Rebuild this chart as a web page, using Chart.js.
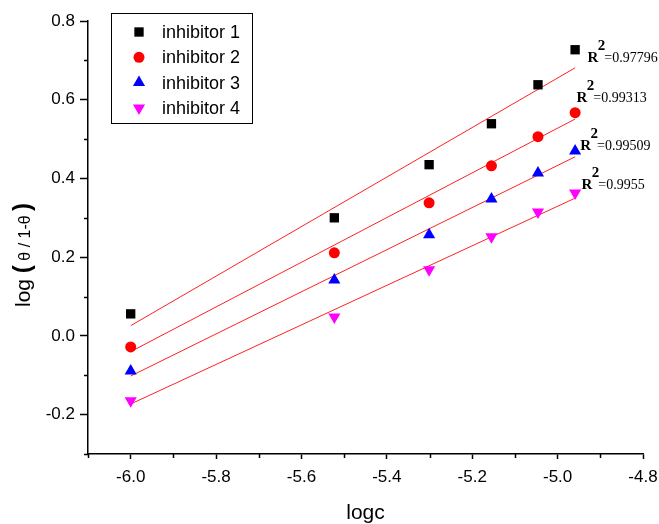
<!DOCTYPE html>
<html>
<head>
<meta charset="utf-8">
<script src="https://cdn.jsdelivr.net/npm/chart.js@4.4.1/dist/chart.umd.min.js"></script>
<style>
  html, body { margin: 0; padding: 0; background: #fff; }
  canvas { display: block; }
</style>
</head>
<body>
<canvas id="chart" width="659" height="524"></canvas>
<script>
// logc for 1, 3, 5, 7, 9, 11 µM
const logc = [-6.0, -5.523, -5.301, -5.155, -5.046, -4.959]
const inhibitor1 = [0.056, 0.300, 0.435, 0.539, 0.638, 0.727]
const inhibitor2 = [-0.028, 0.211, 0.338, 0.432, 0.506, 0.567]
const inhibitor3 = [-0.089, 0.142, 0.257, 0.348, 0.414, 0.470]
const inhibitor4 = [-0.165, 0.048, 0.168, 0.252, 0.315, 0.363]

// fitted lines at both ends
const fitX = [-6.0, -4.959]
const fit1 = [0.026, 0.681]
const fit2 = [-0.040, 0.551]
const fit3 = [-0.102, 0.455]
const fit4 = [-0.173, 0.350]

const seriesNames = ["inhibitor 1", "inhibitor 2", "inhibitor 3", "inhibitor 4"]
const r2Values = ["0.97796", "0.99313", "0.99509", "0.9955"]
// where each R² label starts, in data units
const r2AnchorX = [-4.930, -4.956, -4.947, -4.944]
const r2AnchorY = [0.696, 0.595, 0.473, 0.374]

const xMajorTicks = [-6.0, -5.8, -5.6, -5.4, -5.2, -5.0, -4.8]
const yMajorTicks = [-0.2, 0.0, 0.2, 0.4, 0.6, 0.8]

const sans = "'Liberation Sans', Arial, sans-serif"
const serif = "'Liberation Serif', 'Times New Roman', serif"
Chart.defaults.font.family = sans
Chart.defaults.color = "#000"

const isMajor = (v, list) => list.some(m => Math.abs(m - v) < 1e-6)
const pts = ys => logc.map((x, i) => ({ x, y: ys[i] }))
const fit = ys => fitX.map((x, i) => ({ x, y: ys[i] }))

const markers = [
  { color: "#000000", style: "rect", radius: 6.6, rotation: 0 },
  { color: "#ff0000", style: "circle", radius: 5.5, rotation: 0 },
  { color: "#0000ff", style: "triangle", radius: 7, rotation: 0 },
  { color: "#ff00ff", style: "triangle", radius: 7, rotation: 180 }
]

const pointSets = [inhibitor1, inhibitor2, inhibitor3, inhibitor4].map((ys, i) => ({
  label: seriesNames[i],
  data: pts(ys),
  showLine: false,
  pointStyle: markers[i].style,
  pointRotation: markers[i].rotation,
  pointRadius: markers[i].radius,
  pointHoverRadius: markers[i].radius,
  backgroundColor: markers[i].color,
  borderColor: markers[i].color,
  borderWidth: 0,
  order: 0
}))

const fitSets = [fit1, fit2, fit3, fit4].map(ys => ({
  data: fit(ys),
  showLine: true,
  pointRadius: 0,
  borderColor: "#ff2020",
  borderWidth: 1,
  order: 1
}))

function drawMarker(ctx, m, x, y) {
  ctx.fillStyle = m.color
  ctx.strokeStyle = m.color
  ctx.lineWidth = 0
  Chart.helpers.drawPoint(ctx, { pointStyle: m.style, radius: m.radius, rotation: m.rotation, borderWidth: 0 }, x, y)
}

const decorations = {
  id: "decorations",
  afterDraw(chart) {
    const { ctx, chartArea: a, scales: { x, y } } = chart
    ctx.save()

    // minor ticks
    ctx.strokeStyle = "#000"
    ctx.lineWidth = 1.5
    ctx.beginPath()
    x.ticks.forEach(t => {
      if (isMajor(t.value, xMajorTicks)) return
      const px = Math.round(x.getPixelForValue(t.value)) + 0.5
      ctx.moveTo(px, a.bottom); ctx.lineTo(px, a.bottom + 4)
    })
    y.ticks.forEach(t => {
      if (isMajor(t.value, yMajorTicks)) return
      const py = Math.round(y.getPixelForValue(t.value)) + 0.5
      ctx.moveTo(a.left, py); ctx.lineTo(a.left - 4, py)
    })
    ctx.stroke()

    // legend
    ctx.lineWidth = 1
    ctx.strokeStyle = "#000"
    ctx.strokeRect(111.5, 13.5, 141, 110)
    ctx.font = "18px " + sans
    ctx.textBaseline = "middle"
    ctx.textAlign = "left"
    seriesNames.forEach((name, i) => {
      const ry = 32 + i * 25.3
      drawMarker(ctx, markers[i], 139, ry)
      ctx.fillStyle = "#000"
      ctx.fillText(name, 162, ry + 1)
    })

    // R² labels
    ctx.textBaseline = "alphabetic"
    r2Values.forEach((val, i) => {
      let px = x.getPixelForValue(r2AnchorX[i])
      const py = y.getPixelForValue(r2AnchorY[i])
      ctx.fillStyle = "#000"
      ctx.font = "bold 15px " + serif
      ctx.fillText("R", px, py)
      px += ctx.measureText("R").width
      ctx.fillText("2", px - 0.5, py - 12)
      px += 6
      ctx.font = "14px " + serif
      ctx.fillText("=" + val, px, py)
    })

    // x title
    ctx.font = "21px " + sans
    ctx.textAlign = "center"
    ctx.fillText("logc", (a.left + a.right) / 2, 519)

    // y title with mixed fonts
    ctx.translate(30, 307)
    ctx.rotate(-Math.PI / 2)
    ctx.textAlign = "left"
    const parts = [
      ["log ", "21px " + sans],
      ["(", "bold 24px " + sans],
      [" θ / 1-θ ", "16px " + sans],
      [")", "bold 24px " + sans]
    ]
    let pos = 0
    parts.forEach(([text, font]) => {
      ctx.font = font
      ctx.fillText(text, pos, 0)
      pos += ctx.measureText(text).width
    })
    ctx.restore()
  }
}

new Chart(document.getElementById("chart"), {
  type: "scatter",
  data: { datasets: [...pointSets, ...fitSets] },
  options: {
    responsive: false,
    animation: false,
    devicePixelRatio: 1,
    layout: { padding: { top: 21, right: 16, left: 0, bottom: 0 } },
    plugins: { legend: { display: false }, tooltip: { enabled: false } },
    scales: {
      x: {
        type: "linear",
        min: -6.1,
        max: -4.8,
        afterFit: s => { s.height = 70; s.paddingLeft = 0; s.paddingRight = 0 },
        border: { display: true, color: "#000", width: 1.5 },
        grid: {
          drawOnChartArea: false,
          drawTicks: true,
          tickLength: 5,
          tickWidth: 1.5,
          tickColor: c => isMajor(c.tick.value, xMajorTicks) ? "#000" : "rgba(0,0,0,0)"
        },
        ticks: {
          stepSize: 0.1,
          autoSkip: false,
          maxRotation: 0,
          padding: 8,
          font: { size: 17 },
          color: "#000",
          callback: v => isMajor(v, xMajorTicks) ? v.toFixed(1) : ""
        }
      },
      y: {
        type: "linear",
        min: -0.3,
        max: 0.8,
        afterFit: s => { s.width = 88; s.paddingTop = 0; s.paddingBottom = 0 },
        border: { display: true, color: "#000", width: 1.5 },
        grid: {
          drawOnChartArea: false,
          drawTicks: true,
          tickLength: 8,
          tickWidth: 1.5,
          tickColor: c => isMajor(c.tick.value, yMajorTicks) ? "#000" : "rgba(0,0,0,0)"
        },
        ticks: {
          stepSize: 0.1,
          autoSkip: false,
          padding: 5,
          font: { size: 17 },
          color: "#000",
          callback: v => isMajor(v, yMajorTicks) ? (Math.abs(v) < 1e-9 ? "0.0" : v.toFixed(1)) : ""
        }
      }
    }
  },
  plugins: [decorations]
})
</script>
</body>
</html>
